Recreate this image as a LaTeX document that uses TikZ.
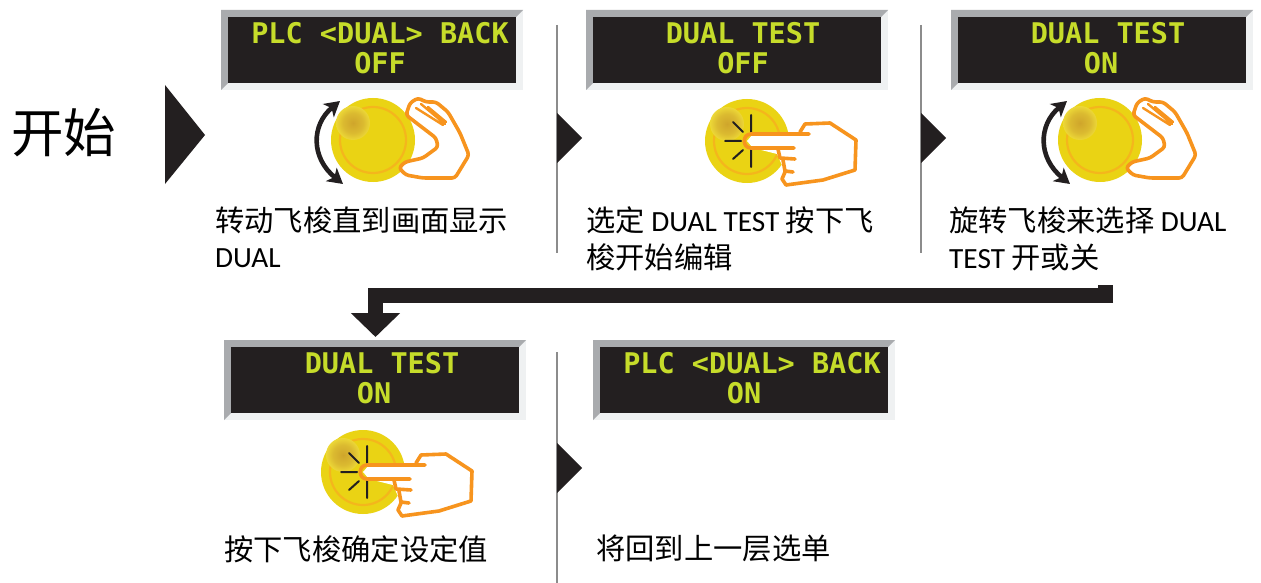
\documentclass[tikz,border=0pt]{standalone}
\usepackage{fontspec}
\setmainfont{Carlito}
\newfontfamily\cjk{Noto Sans CJK SC}
\newfontfamily\lcdfont{DejaVu Sans Mono}
\usetikzlibrary{arrows.meta}
\definecolor{lcdbg}{HTML}{231F20}
\definecolor{lcdtx}{HTML}{C6DC2A}
\definecolor{bevdk}{HTML}{A9ABAE}
\definecolor{bevlt}{HTML}{EFF1F2}
\definecolor{knob}{HTML}{EAD314}
\definecolor{knobring}{HTML}{F4B61C}
\definecolor{hand}{HTML}{F7941E}
\definecolor{hlA}{HTML}{CFA52B}
\definecolor{hlB}{HTML}{F8EC3C}
\definecolor{sepline}{HTML}{8C8C8C}
\pgfdeclareradialshading{hlshade}{\pgfpointorigin}{color(0bp)=(hlA); color(15bp)=(hlA!70!hlB); color(32bp)=(hlB); color(50bp)=(knob)}
\tikzset{
  x=1pt,y=-1pt,
  lcdline/.style={text=lcdtx,inner sep=0pt,font=\lcdfont\bfseries\fontsize{28.5}{28.5}\selectfont},
  caption/.style={anchor=base west,inner sep=0pt,text=black,font=\fontsize{29.3}{29.3}\selectfont},
  handline/.style={draw=hand,line width=3.6pt,line join=round,line cap=round},
  turnarrow/.style={draw=lcdbg,line width=4.6pt,{Stealth[length=15pt,width=17pt,inset=4pt]}-{Stealth[length=15pt,width=17pt,inset=4pt]}},
  sep/.style={draw=sepline,line width=1.6pt},
  playtri/.style={fill=lcdbg,draw=none},
  bigarrow/.style={draw=lcdbg,line width=15pt,-{Triangle[length=24pt,width=48pt]}},
}
% #1 name, #2 left, #3 top, #4 line1 centre x, #5 line1, #6 line2 centre x, #7 line2
\newcommand{\lcdpanel}[7]{
  \fill[bevlt] (#2,#3) rectangle ++(302,80);
  \fill[bevdk] (#2,#3) -- ++(302,0) -- ++(-7,7) -- ++(-288,0) -- ++(0,66) -- ++(-7,7) -- cycle;
  \node[fill=lcdbg,minimum width=288pt,minimum height=66pt,inner sep=0pt,anchor=north west] (#1) at (#2+7,#3+7) {};
  \node[lcdline] (#1a) at (#4,#3+23) {#5};
  \node[lcdline] (#1b) at (#6,#3+53) {#7};
}
\newcommand{\knobbase}{
  \fill[knob] (0,0) circle (42);
  \draw[knobring,line width=2.2pt] (0,0) circle (33);
  \shade[shading=hlshade] (-20,-17) circle (17);
}
\newcommand{\knobturn}[2]{
  \begin{scope}[shift={(#1,#2)}]
    \knobbase
    \path[turnarrow] (-33,-39) .. controls (-62,-15) and (-62,18) .. (-30,44);
    \begin{scope}[rounded corners=3pt]
    \path[handline,fill=white] (33,-25) -- (37,-37) -- (45,-42) -- (53,-38) -- (63,-38) -- (75,-28) -- (87,-7) -- (96,15) -- (82,38) -- (50,38) -- (33,35) -- (26,28) -- (32,22) -- (50,18) -- (65,7) -- (63,-2) -- cycle;
    \end{scope}
    \path[handline,line width=2.4pt] (43,-32) -- (70,-15) (55,-33) -- (73,-18) (48,-36) -- (72,-16);
  \end{scope}
}
\newcommand{\knobpress}[2]{
  \begin{scope}[shift={(#1,#2)}]
    \knobbase
    \draw[lcdbg,line width=2pt,line cap=round] (4,-26) -- (4,-9) (-14,-19) -- (-4,-9) (-22,0) -- (-6,0) (-14,18) -- (-4,9) (4,9) -- (4,26);
    \fill[white] (63,-7) -- (53,-9) -- (58,-17) -- (83,-18) -- (109,-1) -- (108,29) -- (76,39) -- (39,44) -- (35,38) -- (38,31) -- (30,13) -- (6,7) -- (0,0) -- (6,-7) -- cycle;
    \path[handline] (62,-7) -- (4,-7) .. controls (-5,-7) and (-5,7) .. (4,7) -- (47,7) (31,8) -- (33,17) -- (48,18) (36,19) -- (38,30) -- (46,31) (38,31) -- (35,38) -- (39,44) -- (76,39) -- (108,29) -- (109,-1) -- (83,-18) -- (58,-17) -- (53,-9);
  \end{scope}
}
\begin{document}
\begin{tikzpicture}
\useasboundingbox (0,0) rectangle (1261,583);
\fill[white] (0,0) rectangle (1261,583);

\node[anchor=base west,inner sep=0pt,font=\cjk\fontsize{52.5}{52.5}\selectfont] (start) at (11,153) {开始};
\fill[playtri] (165,85) -- (205,135) -- (165,184) -- cycle;

\lcdpanel{p1}{221}{10}{380}{PLC <DUAL> BACK}{380}{OFF}
\lcdpanel{p2}{586}{10}{743}{DUAL TEST}{743}{OFF}
\lcdpanel{p3}{951}{10}{1108}{DUAL TEST}{1101}{ON}
\lcdpanel{p4}{224}{340}{382}{DUAL TEST}{374}{ON}
\lcdpanel{p5}{593}{340}{752}{PLC <DUAL> BACK}{744}{ON}

\knobturn{373}{140}
\knobpress{747}{141}
\knobturn{1100}{140}
\knobpress{363}{472}

\node[caption] (c1a) at (215,231) {\cjk 转动飞梭直到画面显示};
\node[caption] (c1b) at (215,267) {DUAL};
\node[caption] (c2a) at (586,231) {{\cjk 选定} DUAL TEST {\cjk 按下飞}};
\node[caption] (c2b) at (586,268) {\cjk 梭开始编辑};
\node[caption] (c3a) at (949,231) {{\cjk 旋转飞梭来选择} DUAL};
\node[caption] (c3b) at (949,268) {TEST {\cjk 开或关}};
\node[caption] (c4) at (224,560) {\cjk 按下飞梭确定设定值};
\node[caption] (c5) at (596,559) {\cjk 将回到上一层选单};

\coordinate (s1t) at (557,25); \coordinate (s1b) at (557,253);
\coordinate (s2t) at (921,25); \coordinate (s2b) at (921,253);
\coordinate (s3t) at (557,352); \coordinate (s3b) at (557,583);
\draw[sep] (s1t) -- (s1b);
\draw[sep] (s2t) -- (s2b);
\draw[sep] (s3t) -- (s3b);

\fill[playtri] (557,113) -- (582,138) -- (557,163) -- cycle;
\fill[playtri] (921,113) -- (946,138) -- (921,163) -- cycle;
\fill[playtri] (557,443) -- (582,468) -- (557,493) -- cycle;

\coordinate (longstart) at (1113,295.5);
\coordinate (longend) at (375.5,337);
\draw[bigarrow] (longstart) -| (longend);
\fill[lcdbg] (1098,285) rectangle (1113,296);
\end{tikzpicture}
\end{document}
